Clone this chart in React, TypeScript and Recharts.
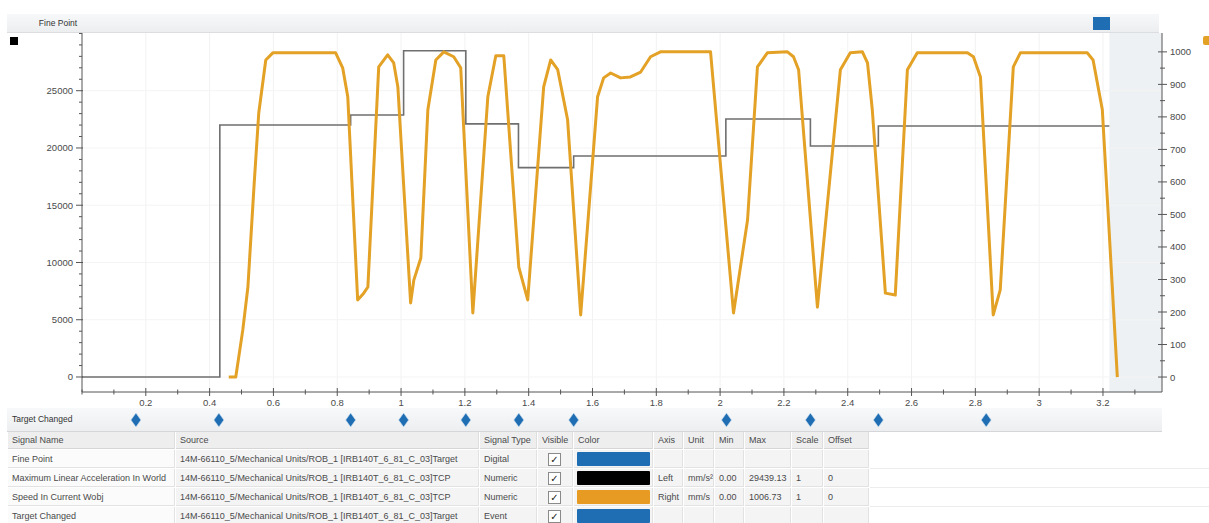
import {
  LineChart, Line, XAxis, YAxis, ReferenceArea, ReferenceLine,
  ScatterChart, Scatter,
} from 'recharts';

const FONT = '"Liberation Sans", Arial, sans-serif';
const TXT = '#4a4a4a';
const AXIS = '#555';
const ORANGE = '#e3a126';
const GREY_LINE = '#6f6f6f';
const BLUE = '#1f6db3';

// ── Axes ─────────────────────────────────────────────────────────────────────

const X_MAX = 3.385;
const xLabels = [0.2, 0.4, 0.6, 0.8, 1, 1.2, 1.4, 1.6, 1.8, 2, 2.2, 2.4, 2.6, 2.8, 3, 3.2];
const leftLabels = [0, 5000, 10000, 15000, 20000, 25000];
const rightLabels = [0, 100, 200, 300, 400, 500, 600, 700, 800, 900, 1000];
const LEFT_DOMAIN: [number, number] = [-1310, 30040];
const RIGHT_DOMAIN: [number, number] = [-46, 1058];

// minor tick positions (labels only on the values above)
const xTicks = Array.from({ length: 34 }, (_, i) => Math.round(i * 10) / 100 * 1);
const leftTicks = Array.from({ length: 31 }, (_, i) => i * 1000);
const rightTicks = Array.from({ length: 21 }, (_, i) => i * 50);

// ── Signals ──────────────────────────────────────────────────────────────────

// Speed In Current Wobj (mm/s) – right axis
const speedTime = [
  0.460, 0.482, 0.504, 0.520, 0.539, 0.554, 0.576, 0.598, 0.795, 0.817,
  0.833, 0.864, 0.883, 0.896, 0.930, 0.958, 0.977, 0.990, 1.030, 1.040,
  1.062, 1.084, 1.109, 1.134, 1.165, 1.187, 1.225, 1.272, 1.297, 1.322,
  1.369, 1.397, 1.447, 1.469, 1.491, 1.522, 1.563, 1.616, 1.635, 1.657,
  1.688, 1.719, 1.751, 1.782, 1.813, 1.970, 2.042, 2.086, 2.117, 2.148,
  2.211, 2.230, 2.246, 2.305, 2.377, 2.408, 2.446, 2.462, 2.477, 2.518,
  2.549, 2.587, 2.618, 2.775, 2.794, 2.816, 2.856, 2.878, 2.919, 2.941,
  3.151, 3.169, 3.198, 3.245,
];
const speedValue = [
  0, 0, 145, 277, 585, 812, 975, 997, 997, 951,
  862, 237, 258, 277, 954, 991, 966, 892, 228, 298,
  366, 822, 975, 1000, 985, 951, 197, 862, 988, 988,
  338, 237, 892, 975, 945, 791, 191, 862, 920, 935,
  920, 923, 938, 985, 1000, 1000, 197, 483, 954, 997,
  1000, 985, 945, 215, 945, 997, 1000, 966, 822, 258,
  252, 945, 997, 997, 985, 923, 191, 268, 954, 997,
  997, 975, 822, 0,
];

// Maximum Linear Acceleration In World (mm/s²) – left axis, held between targets
const accelTime = [0, 0.169, 0.432, 0.842, 1.008, 1.203, 1.368, 1.541, 2.018, 2.283, 2.496, 2.834, 3.22];
const accelValue = [0, 0, 22000, 22880, 28490, 22100, 18280, 19300, 22530, 20170, 21920, 21920, 21920];

// Target Changed events (s)
const targetChanged = [0.169, 0.429, 0.842, 1.008, 1.203, 1.369, 1.541, 2.02, 2.283, 2.496, 2.834];

// ── Signal table ─────────────────────────────────────────────────────────────

const SRC = '14M-66110_5/Mechanical Units/ROB_1 [IRB140T_6_81_C_03]';
const signalNames = ['Fine Point', 'Maximum Linear Acceleration In World', 'Speed In Current Wobj', 'Target Changed'];
const signalSources = [SRC + 'Target', SRC + 'TCP', SRC + 'TCP', SRC + 'Target'];
const signalTypes = ['Digital', 'Numeric', 'Numeric', 'Event'];
const signalColors = [BLUE, '#000000', '#e89b22', BLUE];
const signalAxes = ['', 'Left', 'Right', ''];
const signalUnits = ['', 'mm/s²', 'mm/s', ''];
const signalMins = ['', '0.00', '0.00', ''];
const signalMaxs = ['', '29439.13', '1006.73', ''];
const signalScales = ['', '1', '1', ''];
const signalOffsets = ['', '0', '0', ''];

const speedData = speedTime.map((t, i) => ({ t, v: speedValue[i] }));
const accelData = accelTime.map((t, i) => ({ t, v: accelValue[i] }));
const eventData = targetChanged.map(t => ({ t, y: 0.5 }));

const near = (a: number, b: number) => Math.abs(a - b) < 1e-6;

// eslint-disable-next-line @typescript-eslint/no-explicit-any
function XTick({ x, y, payload }: any) {
  const lab = xLabels.find(l => near(l, payload.value));
  const h = lab !== undefined ? 4 : 2.5;
  return (
    <g>
      <line x1={x} x2={x} y1={y - h} y2={y + h} stroke={AXIS} strokeWidth={1} />
      {lab !== undefined && (
        <text x={x} y={y + 14} textAnchor="middle" fontSize={9.5} fontFamily={FONT} fill={TXT}>
          {String(lab)}
        </text>
      )}
    </g>
  );
}

// eslint-disable-next-line @typescript-eslint/no-explicit-any
function LeftTick({ x, y, payload }: any) {
  const major = leftLabels.some(l => near(l, payload.value));
  return (
    <g>
      <line x1={x - (major ? 6 : 3)} x2={x + (major ? 1 : 0)} y1={y} y2={y} stroke={AXIS} strokeWidth={1} />
      {major && (
        <text x={x - 9} y={y + 3.5} textAnchor="end" fontSize={9.5} fontFamily={FONT} fill={TXT}>
          {String(payload.value)}
        </text>
      )}
    </g>
  );
}

// eslint-disable-next-line @typescript-eslint/no-explicit-any
function RightTick({ x, y, payload }: any) {
  const major = rightLabels.some(l => near(l, payload.value));
  return (
    <g>
      <line x1={x - (major ? 4 : 2)} x2={x + (major ? 5 : 3)} y1={y} y2={y} stroke={AXIS} strokeWidth={1} />
      {major && (
        <text x={x + 8} y={y + 3.5} textAnchor="start" fontSize={9.5} fontFamily={FONT} fill={TXT}>
          {String(payload.value)}
        </text>
      )}
    </g>
  );
}

// eslint-disable-next-line @typescript-eslint/no-explicit-any
function Diamond({ cx, cy }: any) {
  return (
    <polygon
      points={`${cx},${cy - 7} ${cx + 5},${cy} ${cx},${cy + 7} ${cx - 5},${cy}`}
      fill={BLUE}
      stroke="#cfe0f0"
      strokeWidth={0.6}
    />
  );
}

// column layout of the signal table
const cols = [
  { key: 'name', title: 'Signal Name', x: 8, w: 168 },
  { key: 'src', title: 'Source', x: 176, w: 304 },
  { key: 'type', title: 'Signal Type', x: 480, w: 58 },
  { key: 'vis', title: 'Visible', x: 538, w: 36 },
  { key: 'color', title: 'Color', x: 574, w: 80 },
  { key: 'axis', title: 'Axis', x: 654, w: 30 },
  { key: 'unit', title: 'Unit', x: 684, w: 31 },
  { key: 'min', title: 'Min', x: 715, w: 30 },
  { key: 'max', title: 'Max', x: 745, w: 47 },
  { key: 'scale', title: 'Scale', x: 792, w: 32 },
  { key: 'offset', title: 'Offset', x: 824, w: 46 },
];

function cellText(key: string, i: number) {
  switch (key) {
    case 'name': return signalNames[i];
    case 'src': return signalSources[i];
    case 'type': return signalTypes[i];
    case 'axis': return signalAxes[i];
    case 'unit': return signalUnits[i];
    case 'min': return signalMins[i];
    case 'max': return signalMaxs[i];
    case 'scale': return signalScales[i];
    case 'offset': return signalOffsets[i];
    default: return '';
  }
}

const TABLE_TOP = 432;
const ROW_H = 19;

function SignalTable() {
  return (
    <>
      {/* header */}
      {cols.map(c => (
        <div
          key={c.key}
          style={{
            position: 'absolute', left: c.x, top: TABLE_TOP, width: c.w - 1, height: ROW_H - 2,
            background: '#eeeeef', borderRight: '1px solid #dedede', borderBottom: '1px solid #d6d6d6',
            fontSize: 9, color: TXT, lineHeight: `${ROW_H - 2}px`, paddingLeft: 4, boxSizing: 'border-box',
            whiteSpace: 'nowrap', overflow: 'hidden',
          }}
        >
          {c.title}
        </div>
      ))}
      {/* faint row lines across the rest of the panel */}
      {signalNames.map((_, i) => (
        <div
          key={`ln-${i}`}
          style={{
            position: 'absolute', left: 870, top: TABLE_TOP + (i + 1) * ROW_H + ROW_H - 2,
            width: 339, height: 1, background: '#ececec',
          }}
        />
      ))}
      {signalNames.map((_, i) => (
        cols.map(c => {
          const top = TABLE_TOP + (i + 1) * ROW_H - 1;
          const base: React.CSSProperties = {
            position: 'absolute', left: c.x, top, width: c.w - 1, height: ROW_H - 1,
            background: c.key === 'name' ? '#fbfbfb' : '#f4f4f5',
            borderRight: '1px solid #e2e2e2', borderBottom: '1px solid #e2e2e2',
            fontSize: 9, color: TXT, lineHeight: `${ROW_H - 1}px`, paddingLeft: 4,
            boxSizing: 'border-box', whiteSpace: 'nowrap', overflow: 'hidden',
          };
          if (c.key === 'vis') {
            return (
              <div key={`${i}-${c.key}`} style={base}>
                <div style={{
                  position: 'absolute', left: 10, top: 3, width: 11, height: 11,
                  border: '1px solid #8a8a8a', background: '#fff', fontSize: 10, lineHeight: '11px',
                  textAlign: 'center', color: '#222', fontFamily: '"DejaVu Sans", sans-serif',
                }}>✓</div>
              </div>
            );
          }
          if (c.key === 'color') {
            return (
              <div key={`${i}-${c.key}`} style={{ ...base, padding: 0 }}>
                <div style={{
                  position: 'absolute', left: 3, top: 2, width: c.w - 7, height: ROW_H - 5,
                  background: signalColors[i], borderRadius: 1,
                }} />
              </div>
            );
          }
          return (
            <div key={`${i}-${c.key}`} style={base}>{cellText(c.key, i)}</div>
          );
        })
      ))}
    </>
  );
}

export default function App() {
  return (
    <div
      style={{
        position: 'absolute', left: 0, top: 0, width: 1209, height: 523,
        background: '#fff', overflow: 'hidden', fontFamily: FONT,
      }}
    >
      {/* Fine Point strip */}
      <div style={{
        position: 'absolute', left: 7, top: 14, width: 1152, height: 18,
        background: 'linear-gradient(#f7f8f9, #eceef0)', borderBottom: '1px solid #dcdde0',
      }} />
      <div style={{
        position: 'absolute', left: 30, top: 14, width: 56, height: 18,
        fontSize: 8.5, color: '#333', lineHeight: '18px', textAlign: 'center',
      }}>
        Fine Point
      </div>
      <div style={{ position: 'absolute', left: 1093, top: 17, width: 17, height: 13, background: BLUE }} />

      {/* axis colour markers */}
      <div style={{ position: 'absolute', left: 10, top: 37, width: 8, height: 8, background: '#000' }} />
      <div style={{ position: 'absolute', left: 1203, top: 36, width: 8, height: 9, background: ORANGE, borderRadius: 2 }} />

      <div style={{ position: 'absolute', left: 0, top: 0 }}>
        <LineChart width={1209} height={412} margin={{ top: 33, right: 0, bottom: 0, left: 0 }}>
          <XAxis
            type="number"
            dataKey="t"
            domain={[0, X_MAX]}
            ticks={xTicks}
            interval={0}
            allowDataOverflow
            height={20}
            tickSize={0}
            tickMargin={0}
            tickLine={false}
            axisLine={{ stroke: AXIS }}
            tick={<XTick />}
          />
          <YAxis
            yAxisId="left"
            type="number"
            domain={LEFT_DOMAIN}
            ticks={leftTicks}
            interval={0}
            allowDataOverflow
            width={82}
            tickSize={0}
            tickMargin={0}
            tickLine={false}
            axisLine={{ stroke: AXIS }}
            tick={<LeftTick />}
          />
          <YAxis
            yAxisId="right"
            orientation="right"
            type="number"
            domain={RIGHT_DOMAIN}
            ticks={rightTicks}
            interval={0}
            allowDataOverflow
            width={47}
            tickSize={0}
            tickMargin={0}
            tickLine={false}
            axisLine={{ stroke: AXIS }}
            tick={<RightTick />}
          />
          <ReferenceArea yAxisId="left" x1={3.22} x2={X_MAX} fill="#eef1f3" fillOpacity={1} stroke="none" ifOverflow="hidden" />
          {xLabels.map(v => (
            <ReferenceLine key={`gx-${v}`} yAxisId="left" x={v} stroke="#f2f2f2" strokeWidth={1} />
          ))}
          {leftLabels.map(v => (
            <ReferenceLine key={`gy-${v}`} yAxisId="left" y={v} stroke="#f4f4f4" strokeWidth={1} />
          ))}
          <Line
            yAxisId="left"
            data={accelData}
            dataKey="v"
            type="stepAfter"
            stroke={GREY_LINE}
            strokeWidth={1.6}
            dot={false}
            isAnimationActive={false}
          />
          <Line
            yAxisId="right"
            data={speedData}
            dataKey="v"
            type="linear"
            stroke={ORANGE}
            strokeWidth={3}
            strokeLinejoin="round"
            dot={false}
            isAnimationActive={false}
          />
        </LineChart>
      </div>

      {/* Target Changed event row */}
      <div style={{
        position: 'absolute', left: 7, top: 408, width: 1155, height: 23,
        background: 'linear-gradient(#f8f9fa, #eceef0)', borderBottom: '1px solid #d4d6d9',
      }} />
      <div style={{
        position: 'absolute', left: 12, top: 408, height: 23, lineHeight: '23px',
        fontSize: 8.5, color: '#333',
      }}>
        Target Changed
      </div>
      <div style={{ position: 'absolute', left: 0, top: 409 }}>
        <ScatterChart width={1209} height={22} margin={{ top: 0, right: 47, bottom: 0, left: 82 }}>
          <XAxis type="number" dataKey="t" domain={[0, X_MAX]} hide />
          <YAxis type="number" dataKey="y" domain={[0, 1]} hide />
          <Scatter data={eventData} shape={<Diamond />} isAnimationActive={false} />
        </ScatterChart>
      </div>

      <SignalTable />
    </div>
  );
}
